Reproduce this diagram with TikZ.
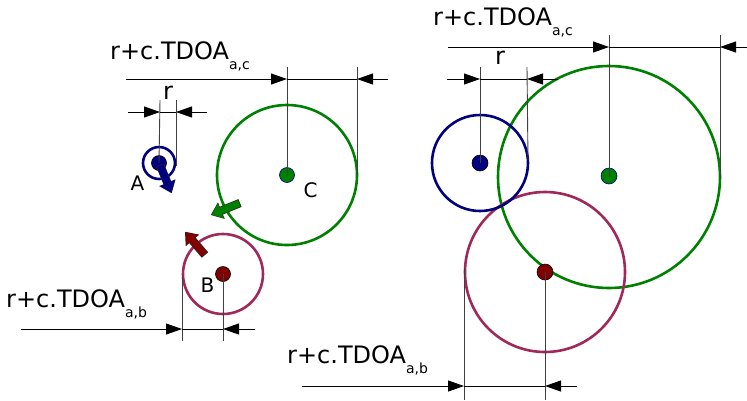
\documentclass[tikz,border=0pt]{standalone}
\usepackage{fontspec}
\setmainfont{DejaVu Sans}
\usetikzlibrary{arrows.meta,calc}
\definecolor{anchorblue}{HTML}{000080}
\definecolor{anchorgreen}{HTML}{008000}
\definecolor{anchorred}{HTML}{800000}
\definecolor{ringred}{HTML}{A0285A}
\definecolor{guidegray}{HTML}{404040}
\newcommand{\tdoa}[1]{r+c.TDOA\raisebox{-10pt}{\fontsize{14}{14}\selectfont #1}}
\tikzset{
  dim/.style={-{Triangle[length=16pt,width=11pt]},line width=0.9pt,draw=black},
  dimbar/.style={line width=0.9pt,draw=black},
  guide/.style={line width=0.9pt,draw=guidegray},
  ring/.style={line width=2.6pt},
  anchordot/.style={circle,draw=black,line width=0.6pt,inner sep=0pt,minimum size=15pt},
  movehalo/.style={line width=8.4pt,draw=black!85,-{Triangle[length=11.5pt,width=17pt]}},
  move/.style={line width=7pt,-{Triangle[length=10pt,width=15pt]},shorten <=0.7pt,shorten >=0.8pt},
  dimtext/.style={font=\fontsize{24}{24}\selectfont,inner sep=0pt,anchor=base west},
  lbl/.style={font=\fontsize{20}{20}\selectfont,inner sep=0pt,anchor=base}
}
\begin{document}
\begin{tikzpicture}[x=1pt,y=-1pt]
  \useasboundingbox (0,0) rectangle (747,400);
  % left: anchors far apart
  \draw[ring,draw=anchorgreen] (287,175) circle[radius=70pt];
  \draw[ring,draw=ringred] (223,274) circle[radius=40pt];
  \draw[ring,draw=anchorblue] (159,163) circle[radius=16pt];
  \node[anchordot,fill=anchorblue] (la) at (159,163) {};
  \node[anchordot,fill=anchorgreen,draw=anchorblue] (lc) at (287,175) {};
  \node[anchordot,fill=anchorred] (lb) at (223,274) {};
  \coordinate (la-tail) at (160,165);
  \coordinate (la-tip) at (171.7,193.3);
  \coordinate (lc-tail) at (240,203);
  \coordinate (lc-tip) at (210.7,215);
  \coordinate (lb-tail) at (205,255);
  \coordinate (lb-tip) at (185,231.7);
  \draw[movehalo] (la-tail) -- (la-tip);
  \draw[move,draw=anchorblue] (la-tail) -- (la-tip);
  \draw[movehalo] (lc-tail) -- (lc-tip);
  \draw[move,draw=anchorgreen] (lc-tail) -- (lc-tip);
  \draw[movehalo] (lb-tail) -- (lb-tip);
  \draw[move,draw=anchorred] (lb-tail) -- (lb-tip);
  \node[lbl] (la-name) at (137.5,190.5) {A};
  \node[lbl] (lc-name) at (310.5,197) {C};
  \node[lbl] (lb-name) at (207.5,292) {B};
  % left dimensions
  \coordinate (l-ac-g1) at (287,67);
  \coordinate (l-ac-g2) at (357,67);
  \coordinate (l-ac-g2b) at (357,175);
  \coordinate (l-ac-s) at (126,79);
  \coordinate (l-ac-a) at (287,79);
  \coordinate (l-ac-b) at (357,79);
  \coordinate (l-ac-e) at (388,79);
  \draw[guide] (lc.center) -- (l-ac-g1);
  \draw[guide] (l-ac-g2b) -- (l-ac-g2);
  \draw[dim] (l-ac-s) -- (l-ac-a);
  \draw[dimbar] (l-ac-a) -- (l-ac-b);
  \draw[dim] (l-ac-e) -- (l-ac-b);
  \node[dimtext] (l-ac-txt) at (110,59) {\tdoa{a,c}};
  \coordinate (l-r-g1) at (160,100);
  \coordinate (l-r-g2) at (176,100);
  \coordinate (l-r-g2b) at (176,166);
  \coordinate (l-r-s) at (128,112);
  \coordinate (l-r-a) at (160,112);
  \coordinate (l-r-b) at (176,112);
  \coordinate (l-r-e) at (207,112);
  \draw[guide] (la.center) -- (l-r-g1);
  \draw[guide] (l-r-g2b) -- (l-r-g2);
  \draw[dim] (l-r-s) -- (l-r-a);
  \draw[dimbar] (l-r-a) -- (l-r-b);
  \draw[dim] (l-r-e) -- (l-r-b);
  \node[dimtext,anchor=base] (l-r-txt) at (168,99) {r};
  \coordinate (l-ab-g1) at (182,275);
  \coordinate (l-ab-g1b) at (182,341);
  \coordinate (l-ab-g2) at (223,341);
  \coordinate (l-ab-s) at (21,329);
  \coordinate (l-ab-a) at (182,329);
  \coordinate (l-ab-b) at (223,329);
  \coordinate (l-ab-e) at (255,329);
  \draw[guide] (l-ab-g1) -- (l-ab-g1b);
  \draw[guide] (lb.center) -- (l-ab-g2);
  \draw[dim] (l-ab-s) -- (l-ab-a);
  \draw[dimbar] (l-ab-a) -- (l-ab-b);
  \draw[dim] (l-ab-e) -- (l-ab-b);
  \node[dimtext] (l-ab-txt) at (6,307) {\tdoa{a,b}};
  % right: circles grown until they meet
  \draw[ring,draw=anchorgreen] (609,177) circle[radius=111pt];
  \draw[ring,draw=ringred] (545,272) circle[radius=80pt];
  \draw[ring,draw=anchorblue] (480,163) circle[radius=48pt];
  \node[anchordot,fill=anchorblue,minimum size=16pt] (ra) at (480,163) {};
  \node[anchordot,fill=anchorgreen,draw=anchorblue,minimum size=16pt] (rc) at (609,176) {};
  \node[anchordot,fill=anchorred,minimum size=16pt] (rb) at (545,272) {};
  % right dimensions
  \coordinate (r-ac-g1) at (609,35);
  \coordinate (r-ac-g2) at (720,35);
  \coordinate (r-ac-g2b) at (720,178);
  \coordinate (r-ac-s) at (448,47);
  \coordinate (r-ac-a) at (609,47);
  \coordinate (r-ac-b) at (720,47);
  \coordinate (r-ac-e) at (747,47);
  \draw[guide] (rc.center) -- (r-ac-g1);
  \draw[guide] (r-ac-g2b) -- (r-ac-g2);
  \draw[dim] (r-ac-s) -- (r-ac-a);
  \draw[dimbar] (r-ac-a) -- (r-ac-b);
  \draw[dim] (r-ac-e) -- (r-ac-b);
  \node[dimtext] (r-ac-txt) at (433,25) {\tdoa{a,c}};
  \coordinate (r-r-g1) at (480,67);
  \coordinate (r-r-g2) at (527,67);
  \coordinate (r-r-g2b) at (528,160);
  \coordinate (r-r-s) at (447,79);
  \coordinate (r-r-a) at (480,79);
  \coordinate (r-r-b) at (527,79);
  \coordinate (r-r-e) at (558,79);
  \draw[guide] (ra.center) -- (r-r-g1);
  \draw[guide] (r-r-g2b) -- (r-r-g2);
  \draw[dim] (r-r-s) -- (r-r-a);
  \draw[dimbar] (r-r-a) -- (r-r-b);
  \draw[dim] (r-r-e) -- (r-r-b);
  \node[dimtext,anchor=base] (r-r-txt) at (500,64) {r};
  \coordinate (r-ab-g1) at (464,268);
  \coordinate (r-ab-g1b) at (464,400);
  \coordinate (r-ab-g2) at (545,400);
  \coordinate (r-ab-s) at (302,386);
  \coordinate (r-ab-a) at (464,386);
  \coordinate (r-ab-b) at (545,386);
  \coordinate (r-ab-e) at (577,386);
  \draw[guide] (r-ab-g1) -- (r-ab-g1b);
  \draw[guide] (rb.center) -- (r-ab-g2);
  \draw[dim] (r-ab-s) -- (r-ab-a);
  \draw[dimbar] (r-ab-a) -- (r-ab-b);
  \draw[dim] (r-ab-e) -- (r-ab-b);
  \node[dimtext] (r-ab-txt) at (287,363) {\tdoa{a,b}};
\end{tikzpicture}
\end{document}
